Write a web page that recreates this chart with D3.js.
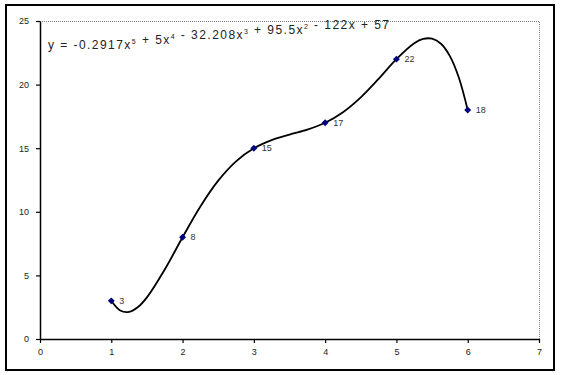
<!DOCTYPE html>
<html lang="en">
	<head>
		<meta charset="utf-8">
		<title>Polynomial trendline</title>
		<script src="https://cdn.jsdelivr.net/npm/d3@7"></script>
		<style type="text/css">
			body { margin: 0; background: #fff; }
			text { font-family: Arial, "Liberation Sans", sans-serif; }
		</style>
	</head>
	<body>
		<script type="text/javascript">

			//Data points
			var xs = [1, 2, 3, 4, 5, 6];
			var ys = [3, 8, 15, 17, 22, 18];

			//Trendline
			var trendX = [1, 1.125, 1.25, 1.375, 1.5, 1.75, 2, 2.25, 2.5, 2.75, 3, 3.25, 3.5, 3.75,
			              4, 4.25, 4.5, 4.75, 5, 5.25, 5.375, 5.5, 5.625, 5.75, 5.875, 6];
			var trendY = [3, 2.24, 2.13, 2.51, 3.27, 5.46, 8, 10.42, 12.45, 13.97, 15, 15.64, 16.07, 16.46,
			              17, 17.83, 19.0, 20.45, 22, 23.25, 23.59, 23.61, 23.21, 22.24, 20.56, 18];

			//Axis ticks
			var xTicks = [0, 1, 2, 3, 4, 5, 6, 7];
			var yTicks = [0, 5, 10, 15, 20, 25];

			//Equation pieces: [text, superscript]
			var eqParts = [["y = -0.2917x", "5"], [" + 5x", "4"], [" - 32.208x", "3"], [" + 95.5x", "2"], [" - 122x + 57", ""]];

			var w = 561;
			var h = 375;

			var svg = d3.select("body")
						.append("svg")
						.attr("width", w)
						.attr("height", h);

			//Outer chart border
			svg.append("rect")
			   .attr("x", 6).attr("y", 5)
			   .attr("width", 548).attr("height", 365)
			   .attr("fill", "#fff")
			   .attr("stroke", "#000")
			   .attr("stroke-width", 2);

			var x = d3.scaleLinear().domain([0, 7]).range([40, 539]);
			var y = d3.scaleLinear().domain([0, 25]).range([339, 21]);

			//Plot area border (gray dotted top and right)
			svg.append("path")
			   .attr("d", "M" + x(0) + "," + (y(25) + 0.5) + "H" + (x(7) + 0.5) + "V" + y(0))
			   .attr("fill", "none")
			   .attr("stroke", "#808080")
			   .attr("stroke-width", 1)
			   .attr("stroke-dasharray", "1,1");

			//Axes
			var xAxis = d3.axisBottom(x).tickValues(xTicks).tickFormat(d3.format("d"))
						  .tickSize(4).tickSizeOuter(0).tickPadding(6);
			var yAxis = d3.axisLeft(y).tickValues(yTicks).tickFormat(d3.format("d"))
						  .tickSize(4).tickSizeOuter(0).tickPadding(7);

			var gx = svg.append("g").attr("transform", "translate(0," + y(0) + ")").call(xAxis);
			var gy = svg.append("g").attr("transform", "translate(" + x(0) + ",0)").call(yAxis);

			[gx, gy].forEach(function(g) {
				g.select(".domain").attr("stroke", "#000").attr("stroke-width", 1.5);
				g.selectAll(".tick line").attr("stroke", "#000").attr("stroke-width", 1.2);
				g.selectAll(".tick text").attr("fill", "#222").style("font-size", "9px")
				 .style("font-family", "Arial, 'Liberation Sans', sans-serif");
			});

			//Trendline
			var line = d3.line()
						 .x(function(d, i) { return x(trendX[i]); })
						 .y(function(d) { return y(d); })
						 .curve(d3.curveCatmullRom.alpha(0.5));

			svg.append("path")
			   .datum(trendY)
			   .attr("d", line)
			   .attr("fill", "none")
			   .attr("stroke", "#000")
			   .attr("stroke-width", 1.8);

			//Markers
			var diamond = d3.symbol().type(d3.symbolSquare).size(24);
			svg.selectAll("path.marker")
			   .data(ys)
			   .enter()
			   .append("path")
			   .attr("class", "marker")
			   .attr("d", diamond)
			   .attr("transform", function(d, i) { return "translate(" + x(xs[i]) + "," + y(d) + ") rotate(45)"; })
			   .attr("fill", "#000080");

			//Data labels
			svg.selectAll("text.lbl")
			   .data(ys)
			   .enter()
			   .append("text")
			   .attr("class", "lbl")
			   .attr("x", function(d, i) { return x(xs[i]) + 8; })
			   .attr("y", function(d) { return y(d) + 3; })
			   .attr("fill", "#333")
			   .style("font-size", "9px")
			   .text(function(d) { return d; });

			//Equation
			var eq = svg.append("text")
						.attr("x", 48)
						.attr("y", 48.5)
						.attr("fill", "#222")
						.style("font-size", "12px");
			eqParts.forEach(function(p) {
				eq.append("tspan").attr("dy", 0).text(p[0]);
				if (p[1]) {
					eq.append("tspan").attr("dy", -5).style("font-size", "7px").text(p[1]);
					eq.append("tspan").attr("dy", 5).text("");
				}
			});
			eq.attr("textLength", 341).attr("lengthAdjust", "spacing");

		</script>
	</body>
</html>
